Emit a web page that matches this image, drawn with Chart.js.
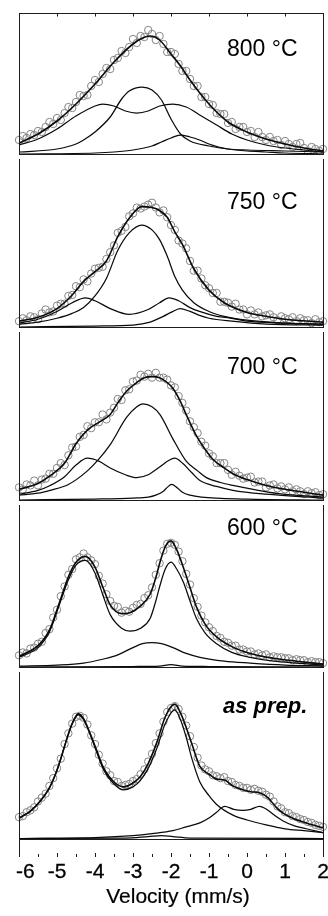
<!DOCTYPE html>
<html>
<head>
<meta charset="utf-8">
<script src="https://cdn.jsdelivr.net/npm/chart.js@4.4.1/dist/chart.umd.min.js"></script>
<style>
html,body{margin:0;padding:0;background:#fff;}
#wrap{position:relative;width:328px;height:916px;overflow:hidden;font-family:"Liberation Sans",Arial,Helvetica,sans-serif;color:#000;}
#wrap canvas{position:absolute;left:0;}
.lbl{position:absolute;font-size:23px;line-height:23px;white-space:nowrap;}
.lbl.it{font-weight:bold;font-style:italic;font-size:22px;}
.tk{position:absolute;top:860px;font-size:21px;line-height:21px;transform:translateX(-50%);white-space:nowrap;-webkit-text-stroke:0.3px #000;}
.tk.first{transform:none;}
.ttl{position:absolute;top:885px;left:178px;font-size:21px;line-height:21px;transform:translateX(-50%);white-space:nowrap;-webkit-text-stroke:0.2px #000;}
</style>
</head>
<body>
<div id="wrap"></div>
<script>
/* ── DATA (absorption above baseline, arbitrary units) ── */
const vel = [-6.0,-5.9,-5.8,-5.7,-5.6,-5.5,-5.4,-5.3,-5.2,-5.1,-5.0,-4.9,-4.8,-4.7,-4.6,-4.5,-4.4,-4.3,-4.2,-4.1,
  -4.0,-3.9,-3.8,-3.7,-3.6,-3.5,-3.4,-3.3,-3.2,-3.1,-3.0,-2.9,-2.8,-2.7,-2.6,-2.5,-2.4,-2.3,-2.2,-2.1,
  -2.0,-1.9,-1.8,-1.7,-1.6,-1.5,-1.4,-1.3,-1.2,-1.1,-1.0,-0.9,-0.8,-0.7,-0.6,-0.5,-0.4,-0.3,-0.2,-0.1,
  0.0,0.1,0.2,0.3,0.4,0.5,0.6,0.7,0.8,0.9,1.0,1.1,1.2,1.3,1.4,1.5,1.6,1.7,1.8,1.9,2.0];

const obs800 = [14,18,16,20,19,23,22,27,32,30, 36,34,41,47,46,52,59,58,59,68, 74,72,80,86,85,94,96,103,101,107,
  115,111,118,117,124,120,114,118,110,102, 102,100,90,83,83,75,68,68,57,57, 50,49,41,40,40,31,32,25,27,27,
  22,23,17,22,17,14,17,13,14,9, 13,10,7,10,11,6,3,7,5,3, 5];
const obs750 = [6,9,7,11,10,8,14,18,15,16, 22,24,24,32,33,42,41,49,47,55, 60,61,62,70,77,84,97,99,103,114,
  117,123,122,124,126,128,123,118,120,113, 105,100,89,86,81,68,58,58,50,43, 40,35,35,26,26,25,21,24,18,18,
  13,17,13,15,11,12,13,10,7,11, 9,8,10,6,9,7,7,4,8,5, 6];
const obs700 = [13,11,16,15,20,15,21,22,27,27, 33,38,36,46,54,55,65,67,76,74, 80,80,88,83,90,95,104,103,113,114,
  122,123,129,127,130,126,131,126,126,124, 118,116,107,100,92,81,75,69,60,56, 48,45,38,38,38,31,26,29,25,22,
  23,24,18,19,19,13,15,16,12,14, 11,13,9,11,9,6,9,7,8,5, 6];
const obs600 = [12,15,14,19,20,24,26,35,39,51, 59,73,83,95,101,111,113,117,113,110, 106,94,86,75,68,63,62,56,58,57,
  61,64,65,71,74,82,95,107,120,127, 128,126,119,109,96,85,71,62,53,46, 41,37,32,30,26,25,22,22,18,18,
  16,16,13,14,12,13,10,11,10,10, 9,9,7,8,7,7,5,6,5,5, 4];
const obsPrep = [22,23,27,29,32,38,42,46,54,62, 72,82,97,108,118,125,126,124,117,106, 97,86,77,69,65,59,58,54,55,56,
  59,61,66,71,79,87,98,108,120,130, 134,136,133,125,116,105,94,83,75,71, 69,65,64,62,63,59,58,55,54,52,
  52,50,51,49,48,45,43,38,33,31, 27,26,23,22,20,19,17,16,14,13, 12];

// fitted envelopes and subspectra, [velocity, absorption]
const fit800Sum = [[-6,11],[-5.5,20],[-5,33],[-4.5,50],[-4,70],[-3.5,92],[-3,110],[-2.75,116],[-2.55,118],[-2.3,114],[-2,100],[-1.75,88],[-1.5,74],[-1,50],[-0.5,32],[0,22],[0.5,15],[1,10],[1.5,6],[2,3]];
const fit800A = [[-6,9],[-5.5,15],[-5,25],[-4.5,38],[-4,48],[-3.8,50],[-3.5,48],[-3.2,43],[-2.9,41],[-2.6,43],[-2.3,48],[-1.95,50],[-1.6,47],[-1.2,38],[-0.8,29],[-0.4,20],[0,14],[0.5,9],[1,6],[1.5,4],[2,2]];
const fit800B = [[-6,2],[-5,5],[-4.5,10],[-4.3,14],[-4,22],[-3.6,37],[-3.3,55],[-3.1,63],[-2.76,67],[-2.5,64],[-2.25,54],[-2,35],[-1.75,20],[-1.5,13],[-1,8],[-0.5,5],[0,4],[1,3],[2,2]];
const fit800C = [[-6,0],[-4,1],[-3.5,2],[-3,4],[-2.5,8],[-2.25,12],[-2,16],[-1.76,19],[-1.5,17],[-1.25,14],[-1,10],[-0.75,7],[-0.5,5],[0,3],[0.5,2],[1,1],[2,0]];

const fit750Sum = [[-6,6],[-5.5,10],[-5,19],[-4.6,33],[-4.3,47],[-4,57],[-3.7,68],[-3.4,93],[-3.1,112],[-2.77,124],[-2.5,123],[-2.3,120],[-2.1,113],[-1.9,98],[-1.7,85],[-1.4,60],[-1,38],[-0.6,25],[0,15],[0.5,11],[1,8],[2,5]];
const fit750A = [[-6,3],[-5.5,5],[-5,9],[-4.6,14],[-4.3,20],[-4,32],[-3.7,50],[-3.4,79],[-3.1,97],[-2.77,105],[-2.5,100],[-2.3,90],[-2.1,73],[-1.9,52],[-1.7,38],[-1.4,25],[-1,16],[-0.6,11],[0,7],[1,4],[2,3]];
const fit750B = [[-6,4],[-5.5,8],[-5,16],[-4.6,25],[-4.25,30],[-4,27],[-3.6,19],[-3.1,13],[-2.6,18],[-2.3,25],[-2.05,30],[-1.8,27],[-1.5,20],[-1.25,16],[-0.8,11],[-0.4,9],[0,6],[1,4],[2,3]];
const fit750C = [[-6,0],[-4,1],[-3,2],[-2.55,5],[-2.2,11],[-2,15],[-1.76,19],[-1.5,16],[-1.25,12],[-1,9],[-0.4,6],[0.5,3],[2,2]];

const fit700Sum = [[-6,11],[-5.5,17],[-5.18,25],[-4.8,38],[-4.5,58],[-4.2,72],[-3.9,80],[-3.6,88],[-3.4,100],[-3.17,112],[-2.9,121],[-2.7,126],[-2.5,127],[-2.3,126],[-2.1,121],[-1.95,115],[-1.76,102],[-1.6,88],[-1.33,66],[-1.1,52],[-0.9,42],[-0.6,33],[-0.37,27],[0,21],[0.5,15],[1,11],[1.5,8],[2,5]];
const fit700A = [[-6,5],[-5.5,7],[-5.18,10],[-4.7,16],[-4.2,30],[-3.9,42],[-3.6,57],[-3.17,85],[-2.9,96],[-2.74,99],[-2.5,96],[-2.29,88],[-1.95,63],[-1.6,40],[-1.3,30],[-1.07,23],[-0.7,18],[-0.37,15],[0.3,10],[0.95,6],[2,3]];
const fit700B = [[-6,6],[-5.5,10],[-5.18,15],[-4.8,24],[-4.5,36],[-4.2,43],[-3.9,40],[-3.6,33],[-3.2,26],[-2.9,23],[-2.6,26],[-2.3,34],[-2.05,41],[-1.9,43],[-1.7,38],[-1.45,28],[-1.24,20],[-0.8,14],[-0.37,10],[0.5,6],[2,2]];
const fit700C = [[-6,0],[-4,1],[-3,2],[-2.6,3],[-2.4,5],[-2.2,9],[-2.1,13],[-1.98,16],[-1.85,13],[-1.7,8],[-1.5,5],[-1.2,3],[0,1],[2,0]];

const fit600Sum = [[-6,11],[-5.5,22],[-5.2,38],[-4.94,66],[-4.7,93],[-4.5,108],[-4.25,114],[-4,103],[-3.8,83],[-3.6,64],[-3.3,55],[-3.08,56],[-2.8,63],[-2.55,75],[-2.4,92],[-2.29,108],[-2.15,124],[-2,130],[-1.85,121],[-1.67,102],[-1.5,82],[-1.33,62],[-1.1,44],[-0.8,31],[-0.4,21],[0.08,14],[0.7,9],[1.3,6],[2,3]];
const fit600A = [[-6,10],[-5.5,20],[-5.2,36],[-4.94,64],[-4.7,90],[-4.5,105],[-4.25,110],[-4,97],[-3.8,75],[-3.6,54],[-3.3,40],[-3.08,37],[-2.8,40],[-2.55,50],[-2.4,68],[-2.29,84],[-2.15,101],[-2,108],[-1.85,101],[-1.67,87],[-1.5,68],[-1.33,50],[-1.1,35],[-0.8,24],[-0.4,15],[0.08,10],[0.7,6],[1.3,4],[2,2]];
const fit600B = [[-6,1],[-5,2],[-4.3,4],[-3.8,8],[-3.43,12],[-3,20],[-2.75,24],[-2.51,25],[-2.25,24],[-1.95,20],[-1.6,14],[-1.24,10],[-0.6,6],[0.08,4],[1,2],[2,1]];
const fit600C = [[-6,0],[-3,0.5],[-2.3,1],[-2,2.5],[-1.7,1],[-1,0.5],[2,0]];

const fitPrepSum = [[-6,21],[-5.7,28],[-5.45,38],[-5.2,52],[-5.03,67],[-4.9,82],[-4.76,100],[-4.6,118],[-4.44,128],[-4.3,123],[-4.13,108],[-3.95,90],[-3.78,73],[-3.5,58],[-3.25,53],[-3,57],[-2.8,64],[-2.6,77],[-2.37,99],[-2.15,125],[-1.9,138],[-1.75,129],[-1.6,114],[-1.45,97],[-1.24,74],[-1,66],[-0.8,61],[-0.59,60],[-0.37,54],[-0.11,50],[0.1,48],[0.33,47],[0.55,42],[0.77,32],[0.95,26],[1.25,20],[1.56,16],[2,11]];
const fitPrepA = [[-6,21],[-5.7,28],[-5.45,38],[-5.2,52],[-5.03,67],[-4.9,82],[-4.76,100],[-4.6,118],[-4.44,127],[-4.3,122],[-4.13,107],[-3.95,88],[-3.78,71],[-3.5,56],[-3.25,50],[-3,53],[-2.8,60],[-2.6,72],[-2.37,93],[-2.15,118],[-1.9,132],[-1.75,122],[-1.6,104],[-1.45,82],[-1.24,58],[-1,44],[-0.8,35],[-0.37,24],[0,19],[0.5,14],[1,10],[1.5,8],[2,6]];
const fitPrepB = [[-6,0],[-4,1],[-3,3],[-2.5,5],[-1.95,8],[-1.6,12],[-1.24,16],[-1,21],[-0.8,27],[-0.59,33],[-0.35,30],[-0.11,29],[0.1,30],[0.33,33],[0.55,29],[0.75,23],[0.95,18],[1.25,13],[1.56,10],[2,6]];
const fitPrepC = [[-6,0],[-3.2,0.5],[-2.6,2],[-2.25,3],[-1.95,2],[-1.5,0.5],[2,0]];

const panelLabels = ['800 °C','750 °C','700 °C','600 °C','as prep.'];
const xTickLabels = [-6,-5,-4,-3,-2,-1,0,1,2];
const xTickMarks  = [-6,-5.5,-5,-4.5,-4,-3.5,-3,-2.5,-2,-1.5,-1,-0.5,0,0.5,1,1.5,2];
const axisTitle = 'Velocity (mm/s)';

/* ── LAYOUT ── */
const panels = [
  { obs:obs800,  fits:[fit800Sum,fit800A,fit800B,fit800C],     top:0,   h:172, pt:13, pb:18, yMin:0,   yMax:141, lx:227, ly:37 },
  { obs:obs750,  fits:[fit750Sum,fit750A,fit750B,fit750C],     top:154, h:191, pt:0,  pb:18, yMin:0,   yMax:173, lx:227, ly:190 },
  { obs:obs700,  fits:[fit700Sum,fit700A,fit700B,fit700C],     top:327, h:191, pt:0,  pb:18, yMin:0,   yMax:173, lx:227, ly:355 },
  { obs:obs600,  fits:[fit600Sum,fit600A,fit600B,fit600C],     top:500, h:185, pt:0,  pb:18, yMin:0,   yMax:167, lx:227, ly:516 },
  { obs:obsPrep, fits:[fitPrepSum,fitPrepA,fitPrepB,fitPrepC], top:667, h:249, pt:0,  pb:59, yMin:-19, yMax:171, lx:223, ly:694 },
];

const framePlugin = {
  id:'frame',
  afterDatasetsDraw(chart, args, o) {
    const {ctx, chartArea:a, scales:{x,y}} = chart;
    ctx.save();
    ctx.strokeStyle = '#1c1c1c'; ctx.lineWidth = 1;
    ctx.beginPath();
    ctx.moveTo(a.left+0.5, a.top); ctx.lineTo(a.left+0.5, a.bottom);
    ctx.moveTo(a.right+0.5, a.top); ctx.lineTo(a.right+0.5, a.bottom);
    const y0 = Math.round(y.getPixelForValue(0))+0.5;
    ctx.moveTo(a.left, y0); ctx.lineTo(a.right+1, y0);
    if (o.top) {
      // top border, integer ticks pointing in
      const t = a.top+0.5;
      ctx.moveTo(a.left, t); ctx.lineTo(a.right+1, t);
      xTickMarks.filter(Number.isInteger).forEach(v=>{
        const px=Math.round(x.getPixelForValue(v))+0.5;
        ctx.moveTo(px,t); ctx.lineTo(px,t+3); });
    }
    if (o.bottom) {
      // bottom ticks every 0.5 mm/s, no closing line
      const b = a.bottom;
      xTickMarks.forEach(v=>{
        const px=Math.round(x.getPixelForValue(v))+0.5;
        ctx.moveTo(px,b); ctx.lineTo(px,b-(Number.isInteger(v)?4:3)); });
    }
    ctx.stroke();
    ctx.restore();
  }
};

const wrap = document.getElementById('wrap');
let lastChart = null;

panels.forEach((p,i)=>{
  const cv = document.createElement('canvas');
  cv.width = 328; cv.height = p.h;
  cv.style.top = p.top+'px';
  wrap.appendChild(cv);

  const lines = p.fits.map((f,k)=>({
    data: f.map(([v,a])=>({x:v,y:a})),
    borderColor:'#0a0a0a', borderWidth: k===0?1.6:1.25,
    pointRadius:0, fill:false,
    cubicInterpolationMode:'monotone',
    clip:false, order:1
  }));
  const dots = {
    data: vel.map((v,j)=>({x:v,y:p.obs[j]})),
    showLine:false, pointRadius:3.7, pointBorderWidth:1,
    pointBorderColor:'#858585', pointBackgroundColor:'rgba(0,0,0,0)',
    clip:false, order:2
  };

  const ch = new Chart(cv.getContext('2d'), {
    type:'line',
    data:{ datasets:[dots, ...lines] },
    options:{
      responsive:false, animation:false, events:[],
      layout:{ padding:{ top:p.pt, bottom:p.pb, left:19, right:5 } },
      scales:{
        x:{ type:'linear', min:-6, max:2, display:false },
        y:{ min:p.yMin, max:p.yMax, display:false }
      },
      plugins:{ legend:{display:false}, tooltip:{enabled:false},
        frame:{ top:i===0, bottom:i===panels.length-1 } }
    },
    plugins:[framePlugin]
  });

  const lb = document.createElement('div');
  lb.className = 'lbl' + (i===panels.length-1?' it':'');
  lb.textContent = panelLabels[i];
  lb.style.left = p.lx+'px'; lb.style.top = p.ly+'px';
  wrap.appendChild(lb);
  lastChart = ch;
});

// bottom axis labels from the last panel's x scale; "-6" is nudged inside the page edge
xTickLabels.forEach((v,k)=>{
  const d = document.createElement('div');
  d.className = 'tk' + (k===0?' first':'');
  d.textContent = String(v);
  d.style.left = (k===0 ? lastChart.chartArea.left-3 : lastChart.scales.x.getPixelForValue(v))+'px';
  wrap.appendChild(d);
});
const tt = document.createElement('div');
tt.className = 'ttl'; tt.textContent = axisTitle;
wrap.appendChild(tt);
</script>
</body>
</html>
